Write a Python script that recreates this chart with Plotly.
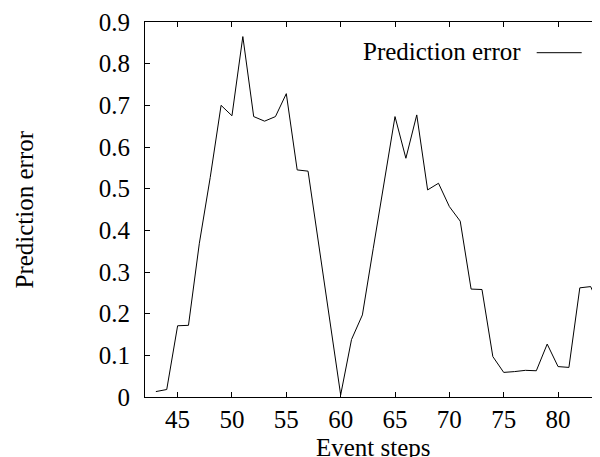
import plotly.graph_objects as go

steps = list(range(43, 85))
errors = [0.013, 0.018, 0.171, 0.172, 0.369, 0.527, 0.700, 0.675, 0.865, 0.673,
          0.662, 0.673, 0.728, 0.545, 0.542, 0.360, 0.180, 0.005, 0.138, 0.197,
          0.357, 0.515, 0.673, 0.573, 0.677, 0.497, 0.513, 0.457, 0.422, 0.259,
          0.258, 0.097, 0.059, 0.061, 0.064, 0.063, 0.127, 0.073, 0.071, 0.262,
          0.265, 0.207]
x_ticks = [45, 50, 55, 60, 65, 70, 75, 80]
y_ticks = [0, 0.1, 0.2, 0.3, 0.4, 0.5, 0.6, 0.7, 0.8, 0.9]
y_tick_text = ["0", "0.1", "0.2", "0.3", "0.4", "0.5", "0.6", "0.7", "0.8", "0.9"]
series_name = "Prediction error"
x_title = "Event steps"
y_title = "Prediction error"

FONT = "Liberation Serif, Times New Roman, serif"
FS = 25

# the page body has an 8px margin; compensate so the plot area lands at
# page x 145..602, y 22..397
OFF = 8
L, R, T, B = 145 - OFF, 0, 22 - OFF, 60
W = 594
H = 457 - OFF
pw = W - L - R
ph = H - T - B


def px(xp):
    return (xp - 145) / pw


def py(yp):
    return (397 - yp) / ph


fig = go.Figure()
fig.add_trace(go.Scatter(x=steps, y=errors, mode="lines", name=series_name,
                         line=dict(color="black", width=1), showlegend=False))

fig.update_layout(
    width=W, height=H,
    margin=dict(l=L, r=R, t=T, b=B, pad=0),
    plot_bgcolor="white", paper_bgcolor="white",
    font=dict(family=FONT, size=FS, color="black"),
    xaxis=dict(range=[42, 42 + pw / 10.87], tickvals=x_ticks, ticks="inside", ticklen=5,
               tickcolor="black", showline=True, linecolor="black", linewidth=1,
               mirror="ticks", showgrid=False, zeroline=False,
               ticklabelstandoff=0),
    yaxis=dict(range=[0, 0.9], tickvals=y_ticks, ticktext=y_tick_text, ticks="inside",
               ticklen=5, tickcolor="black", showline=True, linecolor="black",
               linewidth=1, mirror="ticks", showgrid=False, zeroline=False,
               ticklabelstandoff=9),
)

fig.add_annotation(text=x_title, xref="paper", yref="paper", x=0.5, y=py(447),
                   xanchor="center", yanchor="middle", showarrow=False,
                   font=dict(family=FONT, size=FS, color="black"))
fig.add_annotation(text=y_title, xref="paper", yref="paper", x=px(24), y=0.5,
                   xanchor="center", yanchor="middle", textangle=-90, showarrow=False,
                   font=dict(family=FONT, size=FS, color="black"))

# gnuplot-style key: text then sample line
fig.add_annotation(text=series_name, xref="paper", yref="paper",
                   x=px(523), y=py(52), xanchor="right", yanchor="middle",
                   showarrow=False, font=dict(family=FONT, size=FS, color="black"))
fig.add_shape(type="line", xref="paper", yref="paper",
              x0=px(536.7), x1=px(581.7), y0=py(52.7), y1=py(52.7),
              line=dict(color="black", width=1))

fig.write_html("out.html")
